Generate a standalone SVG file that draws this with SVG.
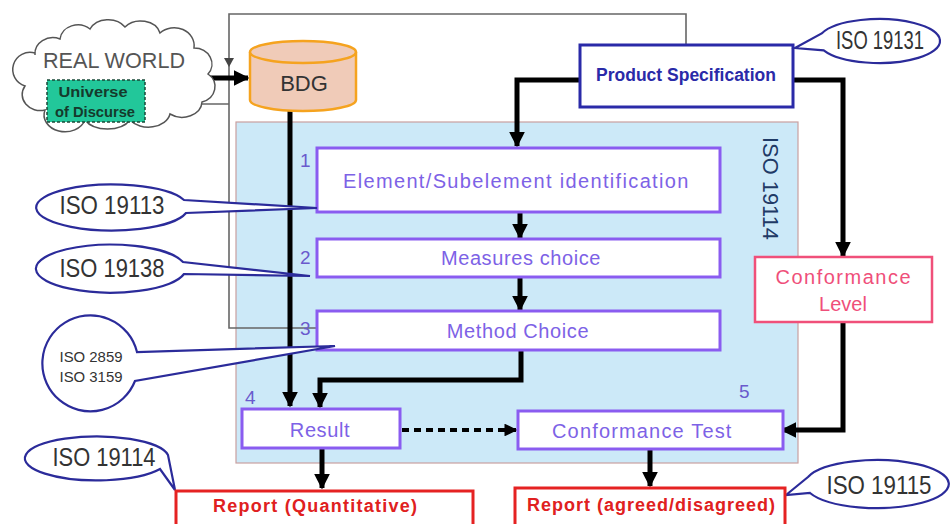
<svg xmlns="http://www.w3.org/2000/svg" width="951" height="524" viewBox="0 0 951 524">
<defs>
<style>
text{font-family:"Liberation Sans",Arial,sans-serif}
.step{fill:#fff;stroke:#8a5cf0;stroke-width:3}
.steptxt{fill:#7d62e6;font-size:20px;text-anchor:middle;letter-spacing:0.6px}
.num{fill:#6a5acd;font-size:19px}
.bub{fill:#fff;stroke:#2b2b9a;stroke-width:2.2}
.bubtxt{fill:#333;font-size:25px;text-anchor:middle}
.thick{fill:none;stroke:#000;stroke-width:5}
.thin{fill:none;stroke:#666;stroke-width:1.6}
.report{fill:#fff;stroke:#e52222;stroke-width:3}
.reporttxt{fill:#e02020;font-size:18px;font-weight:bold;text-anchor:middle}
</style>
<marker id="ah" viewBox="0 0 10 10" refX="9" refY="5" markerWidth="3.2" markerHeight="3.2" orient="auto" markerUnits="strokeWidth">
<path d="M0,0 L10,5 L0,10 z" fill="#000"/>
</marker>
<marker id="ahs" viewBox="0 0 10 10" refX="9" refY="5" markerWidth="5" markerHeight="5" orient="auto" markerUnits="strokeWidth">
<path d="M0,0 L10,5 L0,10 z" fill="#444"/>
</marker>
</defs>
<rect width="951" height="524" fill="#fff"/>

<g id="iso19114-area">
<rect x="236" y="122" width="562" height="341" fill="#cce9f8" stroke="#c9a0a0" stroke-width="1.2"/>
<text x="0" y="0" transform="translate(763,137) rotate(90)" fill="#1f3a66" font-size="22" textLength="103" lengthAdjust="spacingAndGlyphs">ISO 19114</text>
</g>

<g id="connectors">
<polyline class="thin" points="318,328 229,328 229,14 686,14 686,45"/>
<path d="M224,58 L234,58 L229,67 z" fill="#444"/>
<line class="thin" x1="229" y1="104" x2="150" y2="104" marker-end="url(#ahs)"/>
<line class="thick" x1="207" y1="78" x2="248" y2="78" marker-end="url(#ah)"/>
<line class="thick" x1="290" y1="110" x2="290" y2="406" marker-end="url(#ah)"/>
<polyline class="thick" points="580,80 517,80 517,146" marker-end="url(#ah)"/>
<polyline class="thick" points="793,80 843,80 843,256" marker-end="url(#ah)"/>
<polyline class="thick" points="843,322 843,430 782,430" marker-end="url(#ah)"/>
<line class="thick" x1="520" y1="212" x2="520" y2="238" marker-end="url(#ah)"/>
<line class="thick" x1="520" y1="277" x2="520" y2="310" marker-end="url(#ah)"/>
<polyline class="thick" points="521,350 521,380 320,380 320,407" marker-end="url(#ah)"/>
<line x1="402" y1="430" x2="516" y2="430" stroke="#000" stroke-width="4" stroke-dasharray="7,5" marker-end="url(#ah)"/>
<line class="thick" x1="322" y1="448" x2="322" y2="488" marker-end="url(#ah)"/>
<line class="thick" x1="650" y1="449" x2="650" y2="486" marker-end="url(#ah)"/>
</g>

<g id="real-world">
<path d="M35,55 a18,16 0 0 1 25,-16 a18,16 0 0 1 30,-10 a20,16 0 0 1 35,-2 a20,16 0 0 1 35,6 a20,18 0 0 1 34,15 a18,16 0 0 1 14,26 a18,16 0 0 1 -6,28 a20,16 0 0 1 -32,12 a22,16 0 0 1 -40,6 a25,16 0 0 1 -45,0 a20,16 0 0 1 -40,-10 a18,16 0 0 1 -20,-24 a16,16 0 0 1 10,-33 z" fill="#fff" stroke="#555" stroke-width="1.5"/>
<text x="114" y="68" fill="#555" font-size="22" text-anchor="middle" textLength="142" lengthAdjust="spacingAndGlyphs">REAL WORLD</text>
</g>

<g id="universe">
<rect x="47" y="80" width="98" height="42" fill="#22c79a" stroke="#1a4a38" stroke-width="1.5" stroke-dasharray="3,2"/>
<text x="93" y="97" fill="#153a2c" font-size="15" font-weight="bold" text-anchor="middle" textLength="69" lengthAdjust="spacingAndGlyphs">Universe</text>
<text x="95" y="117" fill="#153a2c" font-size="15" font-weight="bold" text-anchor="middle" textLength="80" lengthAdjust="spacingAndGlyphs">of Discurse</text>
</g>

<g id="bdg">
<path d="M250,52 L250,100 A53,11 0 0 0 356,100 L356,52" fill="#f0cbb8" stroke="#f5a31f" stroke-width="2.5"/>
<ellipse cx="303" cy="52" rx="53" ry="11" fill="#f0cbb8" stroke="#f5a31f" stroke-width="2.5"/>
<text x="304" y="91" fill="#333" font-size="22" text-anchor="middle">BDG</text>
</g>

<g id="product-specification">
<rect x="580" y="45" width="213" height="62" fill="#fff" stroke="#2a2aa8" stroke-width="3"/>
<text x="686" y="81" fill="#2a2aa8" font-size="17.5" font-weight="bold" text-anchor="middle">Product Specification</text>
</g>

<g id="iso19131">
<path class="bub" d="M795,48 L821.68,33.48 A61,22 0 1 1 823.72,50.30 z"/>
<text class="bubtxt" x="880" y="49" font-size="22" textLength="88" lengthAdjust="spacingAndGlyphs">ISO 19131</text>
</g>

<g id="step1">
<rect class="step" x="317" y="148" width="403" height="64"/>
<text class="steptxt" x="516" y="188" textLength="346">Element/Subelement identification</text>
<text class="num" x="300" y="167">1</text>
</g>

<g id="step2">
<rect class="step" x="317" y="239" width="403" height="38"/>
<text class="steptxt" x="521" y="265">Measures choice</text>
<text class="num" x="300" y="264">2</text>
</g>

<g id="step3">
<rect class="step" x="317" y="311" width="403" height="39"/>
<text class="steptxt" x="518" y="338">Method Choice</text>
<text class="num" x="300" y="335">3</text>
</g>

<g id="result">
<rect class="step" x="242" y="409" width="158" height="39"/>
<text class="steptxt" x="320" y="437">Result</text>
<text class="num" x="245" y="404">4</text>
</g>

<g id="conformance-test">
<rect class="step" x="518" y="411" width="265" height="38"/>
<text class="steptxt" x="642" y="438" textLength="180">Conformance Test</text>
<text class="num" x="739" y="398">5</text>
</g>

<g id="conformance-level">
<rect x="755" y="257" width="177" height="65" fill="#fff" stroke="#f0507a" stroke-width="2.5"/>
<text x="843" y="284" fill="#ef4f7a" font-size="20" text-anchor="middle" textLength="135">Conformance</text>
<text x="843" y="311" fill="#ef4f7a" font-size="20" text-anchor="middle">Level</text>
</g>

<g id="iso19113">
<path class="bub" d="M317,208 L186,213 A76,23 0 1 1 184,200 z"/>
<text class="bubtxt" x="112" y="214" textLength="105" lengthAdjust="spacingAndGlyphs">ISO 19113</text>
</g>

<g id="iso19138">
<path class="bub" d="M310,276 L184,274 A75,24 0 1 1 183,262 z"/>
<text class="bubtxt" x="112" y="277" textLength="105" lengthAdjust="spacingAndGlyphs">ISO 19138</text>
</g>

<g id="iso2859">
<path class="bub" d="M335,346 L135,381 A48,48 0 1 1 137,352 z"/>
<text x="91" y="362" fill="#333" font-size="15" text-anchor="middle" textLength="63" lengthAdjust="spacingAndGlyphs">ISO 2859</text>
<text x="91" y="382" fill="#333" font-size="15" text-anchor="middle" textLength="63" lengthAdjust="spacingAndGlyphs">ISO 3159</text>
</g>

<g id="iso19114">
<path class="bub" d="M175,490 L160,469 A72,22 0 1 1 168,455 z"/>
<text class="bubtxt" x="104" y="466" textLength="103" lengthAdjust="spacingAndGlyphs">ISO 19114</text>
</g>

<g id="iso19115">
<path class="bub" d="M786,495 L808,477 A72,24 0 1 1 810,493 z"/>
<text class="bubtxt" x="879" y="494" textLength="105" lengthAdjust="spacingAndGlyphs">ISO 19115</text>
</g>

<g id="report-quantitative">
<rect class="report" x="176" y="491" width="297" height="40"/>
<text class="reporttxt" x="315" y="512" textLength="204">Report (Quantitative)</text>
</g>

<g id="report-agreed">
<rect class="report" x="515" y="488" width="270" height="42"/>
<text class="reporttxt" x="651" y="511" textLength="248">Report (agreed/disagreed)</text>
</g>
</svg>
